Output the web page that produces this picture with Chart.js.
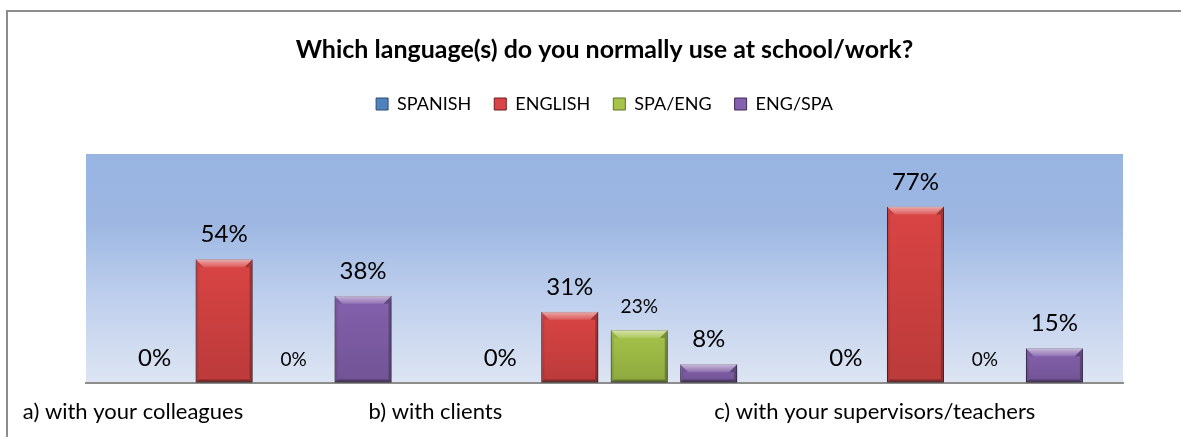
<html>
<head>
<meta charset="utf-8">
<title>Language use</title>
<script src="https://cdn.jsdelivr.net/npm/chart.js"></script>
<style>
  html, body { margin: 0; overflow: hidden; background: #fff; }
  #frame { position: absolute; left: 6px; top: 10px; width: 1400px; height: 600px; border: 2px solid #8c8c8c; }
  #wrap { position: absolute; left: 0; top: 0; width: 1181px; height: 437px; }
</style>
</head>
<body>
<div id="frame"></div>
<div id="wrap"><canvas id="myChart"></canvas></div>
<script>
var categories = ['a) with your colleagues', 'b) with clients', 'c) with your supervisors/teachers'];
var seriesNames = ['SPANISH', 'ENGLISH', 'SPA/ENG', 'ENG/SPA'];
var spanish = [0, 0, 0];
var english = [54, 31, 77];
var spaEng = [0, 23, 0];
var engSpa = [38, 8, 15];

var FONT = 'Lato';

// blue-to-pale gradient behind the bars
var plotBackground = {
  id: 'plotBackground',
  beforeDraw: function(chart) {
    var a = chart.chartArea, ctx = chart.ctx;
    var g = ctx.createLinearGradient(0, a.top, 0, a.bottom);
    g.addColorStop(0, '#98b4e1');
    g.addColorStop(0.3, '#9db7e2');
    g.addColorStop(0.6, '#bccdec');
    g.addColorStop(1, '#dde5f3');
    ctx.save();
    ctx.fillStyle = g;
    ctx.fillRect(a.left, a.top, a.right - a.left, a.bottom - a.top);
    ctx.restore();
  }
};

function poly(ctx, pts, fill) {
  ctx.beginPath();
  ctx.moveTo(pts[0][0], pts[0][1]);
  for (var i = 1; i < pts.length; i++) ctx.lineTo(pts[i][0], pts[i][1]);
  ctx.closePath();
  ctx.fillStyle = fill;
  ctx.fill();
}

// shadow under the bars + bevelled edges on top of them
var bevel = {
  id: 'bevel',
  beforeDatasetsDraw: function(chart) {
    var ctx = chart.ctx;
    ctx.save();
    ctx.shadowColor = 'rgba(0,0,0,0.35)';
    ctx.shadowBlur = 4;
    ctx.shadowOffsetY = 3;
  },
  afterDatasetsDraw: function(chart) {
    var ctx = chart.ctx;
    ctx.restore();
    chart.data.datasets.forEach(function(ds, i) {
      chart.getDatasetMeta(i).data.forEach(function(bar) {
        var p = bar.getProps(['x', 'y', 'base', 'width'], true);
        var h = p.base - p.y;
        if (h < 2) return;
        var l = p.x - p.width / 2, r = p.x + p.width / 2, t = p.y, b = p.base;
        var d = Math.min(8, h / 2), s = 3;
        ctx.save();
        var face = ctx.createLinearGradient(0, t, 0, b);
        face.addColorStop(0, 'rgba(0,0,0,0)');
        face.addColorStop(1, 'rgba(0,0,0,0.14)');
        ctx.fillStyle = face;
        ctx.fillRect(l, t, r - l, b - t);
        var top = ctx.createLinearGradient(0, t, 0, t + d);
        top.addColorStop(0, 'rgba(255,255,255,0.55)');
        top.addColorStop(1, 'rgba(255,255,255,0.12)');
        poly(ctx, [[l, t], [r, t], [r - d, t + d], [l + d, t + d]], top);
        poly(ctx, [[l, t], [l + d, t + d], [l + s, t + d], [l + s, b - s], [l, b]], 'rgba(0,0,0,0.08)');
        poly(ctx, [[r, t], [r - d, t + d], [r - s, t + d], [r - s, b - s], [r, b]], 'rgba(0,0,0,0.25)');
        poly(ctx, [[l, b], [l + s, b - s], [r - s, b - s], [r, b]], 'rgba(0,0,0,0.3)');
        ctx.restore();
      });
    });
  }
};

// percentage above every bar; the SPA/ENG series uses a smaller font
var valueLabels = {
  id: 'valueLabels',
  afterDatasetsDraw: function(chart) {
    var ctx = chart.ctx;
    chart.data.datasets.forEach(function(ds, i) {
      ctx.save();
      ctx.font = (i === 2 ? '19px ' : '24px ') + FONT;
      ctx.fillStyle = '#000';
      ctx.textAlign = 'center';
      ctx.textBaseline = 'alphabetic';
      chart.getDatasetMeta(i).data.forEach(function(bar, j) {
        ctx.fillText(ds.data[j] + '%', bar.x, bar.y - 17);
      });
      ctx.restore();
    });
  }
};

var fills = ['#4f81bd', '#da4444', '#a5c449', '#8461ad'];
var edges = ['#2c4d75', '#6e1c1c', '#5c7424', '#3f2a5a'];
var values = [spanish, english, spaEng, engSpa];

var data = {
  labels: categories,
  datasets: seriesNames.map(function(name, i) {
    return {
      label: name,
      data: values[i],
      backgroundColor: fills[i],
      borderColor: edges[i],
      borderWidth: 1,
      borderSkipped: false,
      categoryPercentage: 0.804,
      barPercentage: 0.82
    };
  })
};

var ctx = document.getElementById('myChart').getContext('2d');
var myChart = new Chart(ctx, {
  type: 'bar',
  data: data,
  plugins: [plotBackground, bevel, valueLabels],
  options: {
    responsive: true,
    maintainAspectRatio: false,
    animation: false,
    layout: { padding: { left: 86, right: 58, top: 10, bottom: 0 } },
    plugins: {
      title: {
        display: true,
        text: 'Which language(s) do you normally use at school/work?',
        color: '#000',
        font: { family: FONT, size: 25, weight: 'bold' },
        padding: { top: 25, bottom: 7 }
      },
      legend: {
        display: true,
        labels: {
          color: '#000',
          font: { family: FONT, size: 18 },
          boxWidth: 12,
          boxHeight: 12,
          padding: 23
        }
      },
      tooltip: { enabled: false }
    },
    scales: {
      x: {
        grid: { display: false, drawTicks: false },
        border: { display: true, color: '#8c8c8c', width: 2 },
        ticks: {
          color: '#000',
          font: { family: FONT, size: 22 },
          align: 'start',
          labelOffset: -236,
          padding: 16,
          maxRotation: 0,
          autoSkip: false
        },
        afterFit: function(scale) {
          scale.paddingLeft = 0;
          scale.paddingRight = 0;
          scale.height -= 4;
        }
      },
      gap: {
        type: 'category',
        position: 'top',
        grid: { display: false },
        border: { display: false },
        ticks: { display: false },
        afterFit: function(scale) { scale.height = 31; }
      },
      y: { display: false, min: 0, max: 100 }
    }
  }
});
</script>
</body>
</html>
